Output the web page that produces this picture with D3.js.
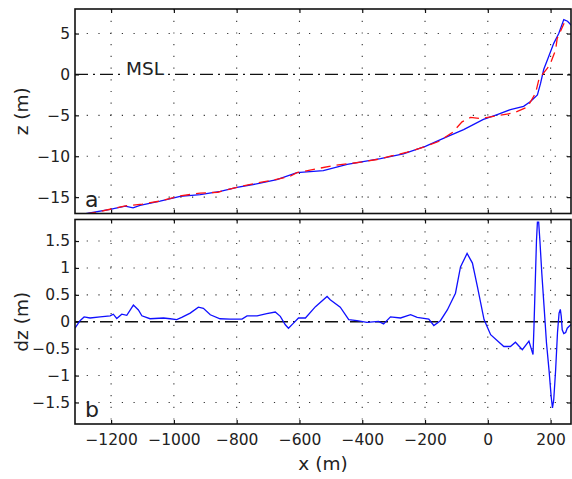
<!DOCTYPE html>
<html>
<head>
<meta charset="utf-8">
<script src="https://cdn.jsdelivr.net/npm/d3@7"></script>
<style>
  body { margin: 0; background: #fff; }
  text { font-family: "DejaVu Sans", sans-serif; fill: #222; }
</style>
</head>
<body>
<div id="chart"></div>
<script>
// tick values
const xTicks = [-1200, -1000, -800, -600, -400, -200, 0, 200];
const zTicks = [-15, -10, -5, 0, 5];
const dzTicks = [-1.5, -1, -0.5, 0, 0.5, 1, 1.5];

// panel a: measured profile (blue)
const blueX = [-1315, -1277, -1203, -1155, -1130, -1108, -1044, -980, -916, -852, -799, -725, -672, -608, -524, -448, -342, -269, -199, -129, -77, -14, 30, 72, 114, 136, 158, 168, 178, 194, 210, 226, 242, 254, 266];
const blueZ = [-17.4, -17.0, -16.5, -16.1, -16.3, -16.0, -15.5, -14.9, -14.7, -14.3, -13.8, -13.3, -12.85, -12.0, -11.75, -11.0, -10.3, -9.7, -8.8, -7.6, -6.75, -5.5, -4.9, -4.3, -3.9, -3.3, -2.5, -1.1, 0.6, 2.2, 3.8, 5.0, 6.7, 6.5, 6.0];

// panel a: second profile (red dashed)
const redX = [-1280, -1240, -1200, -1150, -1100, -1040, -980, -916, -860, -800, -725, -677, -630, -608, -540, -487, -440, -400, -353, -310, -257, -205, -157, -113, -82, -55, -23, 30, 83, 126, 152, 163, 190, 200, 216, 221, 243];
const redZ = [-17.05, -16.8, -16.45, -16.05, -15.85, -15.45, -14.85, -14.5, -14.4, -13.8, -13.2, -12.85, -12.45, -12.0, -11.5, -11.1, -10.9, -10.7, -10.4, -10.0, -9.5, -8.9, -8.2, -7.1, -5.8, -5.25, -5.4, -5.05, -4.7, -4.0, -2.3, -0.55, 0.77, 1.4, 3.0, 4.4, 6.25];

// panel b: difference
const dzX = [-1315, -1299, -1286, -1267, -1235, -1203, -1193, -1182, -1166, -1150, -1129, -1113, -1102, -1076, -1033, -1012, -991, -975, -948, -922, -906, -884, -853, -821, -783, -767, -735, -704, -677, -661, -645, -635, -619, -603, -581, -549, -512, -502, -470, -443, -417, -385, -348, -332, -310, -278, -246, -225, -188, -172, -151, -129, -103, -87, -66, -49, -33, -12, 9, 51, 72, 88, 110, 131, 144, 147, 155, 158, 162, 166, 172, 179, 187, 195, 202, 206, 210, 216, 222, 227, 231, 234, 237, 242, 248, 253, 260, 266];
const dzY = [-0.12, 0.02, 0.09, 0.07, 0.09, 0.11, 0.14, 0.06, 0.14, 0.12, 0.31, 0.22, 0.11, 0.056, 0.07, 0.056, 0.04, 0.08, 0.16, 0.27, 0.25, 0.13, 0.056, 0.05, 0.05, 0.11, 0.11, 0.15, 0.18, 0.1, -0.056, -0.12, -0.025, 0.07, 0.07, 0.28, 0.47, 0.41, 0.27, 0.04, 0.02, -0.01, 0.006, -0.04, 0.09, 0.07, 0.13, 0.08, 0.05, -0.07, 0.02, 0.22, 0.53, 1.02, 1.27, 1.09, 0.65, 0.04, -0.24, -0.46, -0.46, -0.38, -0.52, -0.36, -0.61, -0.1, 1.5, 1.85, 1.85, 1.5, 0.9, 0.3, -0.4, -0.9, -1.4, -1.6, -1.45, -0.9, -0.2, 0.16, 0.23, 0.1, -0.15, -0.22, -0.2, -0.12, -0.08, -0.05];

const W = 572, H = 479;
const left = 75, right = 571;
const topA = 9, botA = 213.5, topB = 219.5, botB = 424;

const svg = d3.select("#chart").append("svg")
  .attr("width", W).attr("height", H);

const x = d3.scaleLinear().domain([-1315, 265]).range([left, right]);
const yA = d3.scaleLinear().domain([-17, 8]).range([botA, topA]);
const yB = d3.scaleLinear().domain([-1.9, 1.9]).range([botB, topB]);

const fmt = d3.format("");

function panel(id, y, yTicks, top, bot, showX) {
  const g = svg.append("g");

  g.append("clipPath").attr("id", id)
    .append("rect").attr("x", left).attr("y", top)
    .attr("width", right - left).attr("height", bot - top);

  // dotted grid
  g.append("g").selectAll("line").data(xTicks).enter().append("line")
    .attr("x1", d => x(d)).attr("x2", d => x(d))
    .attr("y1", top).attr("y2", bot)
    .attr("stroke", "#333").attr("stroke-width", 1.1)
    .attr("stroke-dasharray", "1.2,10.5");
  g.append("g").selectAll("line").data(yTicks.filter(d => d !== 0)).enter().append("line")
    .attr("x1", left).attr("x2", right)
    .attr("y1", d => y(d)).attr("y2", d => y(d))
    .attr("stroke", "#333").attr("stroke-width", 1.1)
    .attr("stroke-dasharray", "1.2,10.5");

  // zero line, dash-dot
  g.append("line")
    .attr("x1", left).attr("x2", right)
    .attr("y1", y(0)).attr("y2", y(0))
    .attr("stroke", "#111").attr("stroke-width", 1.3)
    .attr("stroke-dasharray", "13,5,2,5");

  // axes with inward ticks
  g.append("g").attr("transform", `translate(${left},0)`)
    .call(d3.axisLeft(y).tickValues(yTicks).tickFormat(fmt).tickSizeInner(-4).tickSizeOuter(0).tickPadding(5))
    .call(a => a.select(".domain").remove())
    .call(a => a.selectAll("text").style("font-size", "15.5px").attr("fill", "#222"));
  g.append("g").attr("transform", `translate(${right},0)`)
    .call(d3.axisRight(y).tickValues(yTicks).tickFormat("").tickSizeInner(-4).tickSizeOuter(0))
    .call(a => a.select(".domain").remove());
  g.append("g").attr("transform", `translate(0,${top})`)
    .call(d3.axisTop(x).tickValues(xTicks).tickFormat("").tickSizeInner(-4).tickSizeOuter(0))
    .call(a => a.select(".domain").remove());
  g.append("g").attr("transform", `translate(0,${bot})`)
    .call(d3.axisBottom(x).tickValues(xTicks).tickFormat(showX ? fmt : "").tickSizeInner(-4).tickSizeOuter(0).tickPadding(10))
    .call(a => a.select(".domain").remove())
    .call(a => a.selectAll("text").style("font-size", "15.5px").attr("fill", "#222"));

  g.selectAll(".tick line").attr("stroke", "#111").attr("stroke-width", 1.2);

  return g;
}

const gA = panel("clipA", yA, zTicks, topA, botA, false);
const gB = panel("clipB", yB, dzTicks, topB, botB, true);

// MSL label sitting on the zero line
const msl = gA.append("text").attr("x", 126).attr("y", yA(0) + 0.5)
  .style("font-size", "18.5px").text("MSL");
const bb = msl.node().getBBox();
gA.insert("rect", () => msl.node())
  .attr("x", bb.x - 6).attr("y", yA(0) - 2)
  .attr("width", bb.width + 9).attr("height", 4)
  .attr("fill", "#fff");

// lines
const lineA = d3.line().x(d => x(d[0])).y(d => yA(d[1]));
const lineB = d3.line().x(d => x(d[0])).y(d => yB(d[1]));

gA.append("path").datum(blueX.map((v, i) => [v, blueZ[i]]))
  .attr("clip-path", "url(#clipA)")
  .attr("d", lineA).attr("fill", "none")
  .attr("stroke", "#1010ff").attr("stroke-width", 1.3);
gA.append("path").datum(redX.map((v, i) => [v, redZ[i]]))
  .attr("clip-path", "url(#clipA)")
  .attr("d", lineA).attr("fill", "none")
  .attr("stroke", "#ff1010").attr("stroke-width", 1.3)
  .attr("stroke-dasharray", "10,6");

gB.append("path").datum(dzX.map((v, i) => [v, dzY[i]]))
  .attr("clip-path", "url(#clipB)")
  .attr("d", lineB).attr("fill", "none")
  .attr("stroke", "#1010ff").attr("stroke-width", 1.3);

// frames
[[topA, botA], [topB, botB]].forEach(([t, b]) => {
  svg.append("rect").attr("x", left).attr("y", t)
    .attr("width", right - left).attr("height", b - t)
    .attr("fill", "none").attr("stroke", "#111").attr("stroke-width", 1.6);
});

// panel letters
svg.append("text").attr("x", 85).attr("y", 207).style("font-size", "22px").text("a");
svg.append("text").attr("x", 85).attr("y", 417).style("font-size", "22px").text("b");

// axis labels
svg.append("text").attr("transform", `translate(28,${(topA + botA) / 2}) rotate(-90)`)
  .attr("text-anchor", "middle").style("font-size", "18.5px").text("z (m)");
svg.append("text").attr("transform", `translate(28,${(topB + botB) / 2}) rotate(-90)`)
  .attr("text-anchor", "middle").style("font-size", "18.5px").text("dz (m)");
svg.append("text").attr("x", (left + right) / 2).attr("y", 470)
  .attr("text-anchor", "middle").style("font-size", "18.5px").text("x (m)");
</script>
</body>
</html>
